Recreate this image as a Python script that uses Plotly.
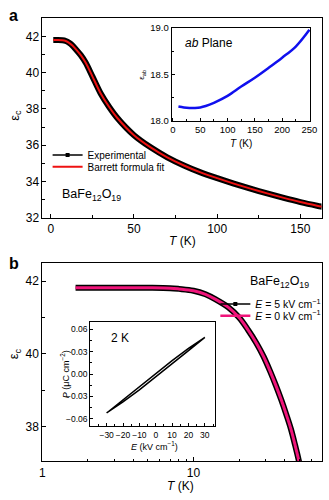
import plotly.graph_objects as go

# ---------- data ----------
# panel a: epsilon_c vs T (K)
T_a = [1.5, 4, 7, 9, 11, 13, 15, 18, 21, 25, 30, 35, 40, 50, 60, 70, 80, 90, 100, 110, 120, 130, 140, 150, 160, 165]
eps_a = [41.8, 41.8, 41.79, 41.75, 41.65, 41.5, 41.3, 40.97, 40.55, 39.8, 38.85, 38.12, 37.5, 36.55,
         35.88, 35.33, 34.88, 34.5, 34.18, 33.88, 33.6, 33.34, 33.09, 32.86, 32.66, 32.57]
# inset a: epsilon_ab vs T
T_ab = [10, 20, 30, 40, 50, 60, 75, 100, 125, 150, 175, 200, 225, 250]
eps_ab = [18.155, 18.145, 18.14, 18.14, 18.145, 18.16, 18.195, 18.27, 18.37, 18.465, 18.57, 18.68, 18.8, 18.98]
# panel b: epsilon_c vs T (log)
T_b = [1.66, 2, 3, 5, 7, 8, 10, 12, 14, 17, 20, 23, 26, 29, 32, 35, 38, 41, 44, 47, 50, 53]
eps_b = [41.82, 41.82, 41.82, 41.82, 41.81, 41.79, 41.74, 41.64, 41.5, 41.28, 41.0, 40.65, 40.3, 39.93,
         39.53, 39.13, 38.73, 38.33, 37.93, 37.47, 37.0, 36.5]
# inset b: P-E loop at 2 K
E_loop = [-30, -20, -10, 0, 10, 20, 30, 20, 10, 0, -10, -20, -30]
P_loop = [-0.052, -0.0345, -0.017, 0.0007, 0.0178, 0.0342, 0.049, 0.0312, 0.0138, -0.0038, -0.0212, -0.0372, -0.052]
E_ticks = [-30, -20, -10, 0, 10, 20, 30]

W, H = 329, 500
def px(x): return x / W
def py(y): return 1 - y / H

FONT = "Liberation Sans, Arial, sans-serif"
fig = go.Figure()

# panel a
fig.add_trace(go.Scatter(x=T_a, y=eps_a, mode="lines", line=dict(color="black", width=6, shape="spline", smoothing=0.8),
                         showlegend=False, xaxis="x", yaxis="y"))
fig.add_trace(go.Scatter(x=T_a, y=eps_a, mode="lines", line=dict(color="#ee1111", width=2, shape="spline", smoothing=0.8),
                         showlegend=False, xaxis="x", yaxis="y"))
# inset a
fig.add_trace(go.Scatter(x=T_ab, y=eps_ab, mode="lines", line=dict(color="#1010ee", width=2.5, shape="spline"),
                         showlegend=False, xaxis="x2", yaxis="y2"))
# panel b
fig.add_trace(go.Scatter(x=T_b, y=eps_b, mode="lines", line=dict(color="black", width=6, shape="spline"),
                         showlegend=False, xaxis="x3", yaxis="y3"))
fig.add_trace(go.Scatter(x=T_b, y=eps_b, mode="lines", line=dict(color="#f0147a", width=3, shape="spline"),
                         showlegend=False, xaxis="x3", yaxis="y3"))
# inset b
fig.add_trace(go.Scatter(x=E_loop, y=P_loop, mode="lines", line=dict(color="black", width=1.5),
                         showlegend=False, xaxis="x4", yaxis="y4"))

# legend entries
fig.add_trace(go.Scatter(x=[None], y=[None], mode="lines+markers", name="Experimental",
                         line=dict(color="black", width=1.5), marker=dict(symbol="square", size=4, color="black"),
                         legend="legend"))
fig.add_trace(go.Scatter(x=[None], y=[None], mode="lines", name="Barrett formula fit",
                         line=dict(color="#ee1111", width=2), legend="legend2"))
fig.add_trace(go.Scatter(x=[None], y=[None], mode="lines+markers", name="<i>E</i> = 5 kV cm<sup>−1</sup>",
                         line=dict(color="black", width=1.5), marker=dict(symbol="square", size=4, color="black"),
                         legend="legend3"))
fig.add_trace(go.Scatter(x=[None], y=[None], mode="lines", name="<i>E</i> = 0 kV cm<sup>−1</sup>",
                         line=dict(color="#f0147a", width=2.5), legend="legend4"))

def leg(x, y, size):
    return dict(x=px(x), y=py(y), xanchor="left", yanchor="middle", bgcolor="rgba(0,0,0,0)",
                font=dict(family=FONT, size=size, color="black"), itemwidth=30,
                borderwidth=0, tracegroupgap=0)

axis_common = dict(showline=True, linecolor="black", linewidth=1, mirror=True, ticks="inside",
                   tickcolor="black", showgrid=False, zeroline=False)

fig.update_layout(
    width=W, height=H, margin=dict(l=0, r=0, t=0, b=0),
    paper_bgcolor="white", plot_bgcolor="white",
    font=dict(family=FONT, color="black"),
    xaxis=dict(domain=[px(40.7), px(328.5)], range=[-5, 162.7], anchor="y", dtick=50, tick0=0, ticklen=4,
               tickfont=dict(size=12),
               minor=dict(ticks="inside", dtick=25, tick0=0, ticklen=2.5, tickcolor="black"), **axis_common),
    yaxis=dict(domain=[py(217.3), py(12.7)], range=[32, 43], anchor="x", dtick=2, tick0=32, ticklen=4,
               tickfont=dict(size=12),
               minor=dict(ticks="inside", dtick=1, tick0=32, ticklen=2.5, tickcolor="black"), **axis_common),
    xaxis2=dict(domain=[px(174), px(316.7)], range=[-2.3, 251.2], anchor="y2", dtick=50, tick0=0, ticklen=3,
                tickfont=dict(size=9.5), tickangle=0,
                minor=dict(ticks="inside", dtick=25, tick0=0, ticklen=2, tickcolor="black"), **axis_common),
    yaxis2=dict(domain=[py(118), py(22.5)], range=[18, 19], anchor="x2", dtick=0.5, tick0=18, ticklen=3,
                tickformat=".1f", tickfont=dict(size=9.5),
                minor=dict(ticks="inside", dtick=0.25, tick0=18, ticklen=2, tickcolor="black"), **axis_common),
    xaxis3=dict(domain=[px(40.5), px(328.5)], type="log", range=[0, 1.846], anchor="y3",
                tickmode="array", tickvals=[1, 10], ticktext=["1", "10"], ticklen=4, tickfont=dict(size=12),
                minor=dict(ticks="inside", tickmode="array",
                           tickvals=[2, 3, 4, 5, 6, 7, 8, 9, 20, 30, 40, 50, 60], ticklen=2.5, tickcolor="black"),
                **axis_common),
    yaxis3=dict(domain=[py(467.3), py(264)], range=[37.04, 42.5], anchor="x3", dtick=2, tick0=38, ticklen=4,
                tickfont=dict(size=12),
                minor=dict(ticks="inside", dtick=1, tick0=38, ticklen=2.5, tickcolor="black"), **axis_common),
    xaxis4=dict(domain=[px(90), px(218.3)], range=[-40, 36], anchor="y4", tickmode="array", tickvals=E_ticks,
                ticklen=3, tickfont=dict(size=8.5), tickangle=0,
                minor=dict(ticks="inside", dtick=5, tick0=0, ticklen=2, tickcolor="black"), **axis_common),
    yaxis4=dict(domain=[py(431.7), py(324)], range=[-0.07, 0.07], anchor="x4", dtick=0.03, tick0=0, ticklen=3,
                tickformat=".2f", tickfont=dict(size=8.5),
                minor=dict(ticks="inside", dtick=0.015, tick0=0, ticklen=2, tickcolor="black"), **axis_common),
    legend=leg(46, 153, 10),
    legend2=leg(46, 165, 10),
    legend3=leg(219, 306, 10.5),
    legend4=leg(219, 318, 10.5),
)

def ann(x, y, text, size, angle=0, xanchor="center"):
    fig.add_annotation(x=px(x), y=py(y), xref="paper", yref="paper", text=text, showarrow=False,
                       textangle=angle, xanchor=xanchor, yanchor="middle",
                       font=dict(family=FONT, size=size, color="black"))

ann(11, 10, "<b>a</b>", 16)
ann(11, 264, "<b>b</b>", 16)
ann(12, 112, "ε<sub>c</sub>", 13, angle=-90)
ann(185, 241, "<i>T</i> (K)", 12)
ann(59, 194, "BaFe<sub>12</sub>O<sub>19</sub>", 12.5, xanchor="left")
ann(186, 38, "<i>ab</i> Plane", 12, xanchor="left")
ann(144, 71, "ε<sub>ab</sub>", 8, angle=-90)
ann(245, 141, "<i>T</i> (K)", 10)
ann(12, 357, "ε<sub>c</sub>", 13, angle=-90)
ann(183, 493, "<i>T</i> (K)", 12)
ann(318, 283, "BaFe<sub>12</sub>O<sub>19</sub>", 12.5, xanchor="right")
ann(109, 341, "2 K", 12, xanchor="left")
ann(64, 378, "<i>P</i> (μC cm<sup>−2</sup>)", 9, angle=-90)
ann(156, 452, "<i>E</i> (kV cm<sup>−1</sup>)", 9)

fig.write_html("out.html")
